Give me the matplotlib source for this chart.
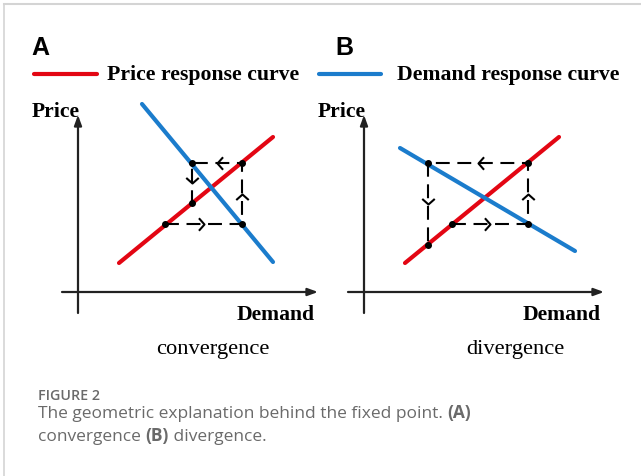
import matplotlib
matplotlib.use("Agg")
import matplotlib.pyplot as plt
from matplotlib.path import Path
import numpy as np

W, H = 641, 476

# curve end points (x = demand, y = price)
red_a_x = [4.1, 19.5]
red_a_y = [2.9, 15.5]
blue_a_x = [6.4, 19.5]
blue_a_y = [18.8, 3.0]
red_b_x = [4.1, 19.5]
red_b_y = [2.9, 15.5]
blue_b_x = [3.6, 21.1]
blue_b_y = [14.4, 4.1]

# cobweb paths
web_a_x = [8.7, 16.4, 16.4, 11.4, 11.4]
web_a_y = [6.8, 6.8, 12.9, 12.9, 8.9]
web_b_x = [8.8, 16.4, 16.4, 6.4, 6.4]
web_b_y = [6.8, 6.8, 12.9, 12.9, 4.7]

panel_tags = ["A", "B"]
panel_names = ["convergence", "divergence"]
legend_labels = ["Price response curve", "Demand response curve"]

RED = "#e30613"
BLUE = "#1b7ccc"
AX_COL = "#222222"
CAP_COL = "#6a6a6a"

plt.rcParams["lines.scale_dashes"] = False
SERIF = "Liberation Serif"


def px(x, y):
    return x / W, 1 - y / H


def chevron(angle):
    v = np.array([[-4.0, 4.5], [0.0, 0.0], [-4.0, -4.5]])
    a = np.deg2rad(angle)
    rot = np.array([[np.cos(a), -np.sin(a)], [np.sin(a), np.cos(a)]])
    return Path(v @ rot.T, [Path.MOVETO, Path.LINETO, Path.LINETO])


def draw_panel(ax, rx, ry, bx, by, wx, wy):
    ax.set_xlim(-1.6, 24.0)
    ax.set_ylim(-2.1, 19.2)
    ax.axis("off")
    arr = dict(arrowstyle="-|>,head_length=0.6,head_width=0.22", mutation_scale=10,
               lw=1.6, color=AX_COL, shrinkA=0, shrinkB=0)
    ax.annotate("", xy=(24.0, 0), xytext=(-1.6, 0), arrowprops=arr, annotation_clip=False)
    ax.annotate("", xy=(0, 17.7), xytext=(0, -2.1), arrowprops=arr, annotation_clip=False)
    ax.plot(rx, ry, color=RED, lw=3.0, solid_capstyle="round", clip_on=False)
    ax.plot(bx, by, color=BLUE, lw=3.0, solid_capstyle="round", clip_on=False)
    ax.plot(wx, wy, color="black", lw=1.5, dashes=(10, 5.5), clip_on=False)
    ax.plot(wx, wy, "o", color="black", ms=4, clip_on=False)
    for i in range(len(wx) - 1):
        mx = (wx[i] + wx[i + 1]) / 2
        my = (wy[i] + wy[i + 1]) / 2
        ang = np.degrees(np.arctan2(wy[i + 1] - wy[i], wx[i + 1] - wx[i]))
        ax.plot(mx, my, marker=chevron(ang), ms=9, mfc="none", mec="black",
                mew=1.5, clip_on=False)
    ax.text(-4.6, 17.5, "Price", family=SERIF, weight="bold", fontsize=15.6,
            ha="left", va="baseline")
    ax.text(23.7, -2.8, "Demand", family=SERIF, weight="bold", fontsize=15.6,
            ha="right", va="baseline")


fig = plt.figure(figsize=(W / 100, H / 100), dpi=100)

# frame lines of the figure page
fig.add_artist(plt.Line2D([4 / W, 1], [1 - 4 / H, 1 - 4 / H], color="#d4d4d4", lw=1.5))
fig.add_artist(plt.Line2D([4 / W, 4 / W], [0, 1 - 4 / H], color="#d4d4d4", lw=1.2))

ax_a = fig.add_axes([62 / W, (H - 313) / H, 256 / W, 213 / H])
ax_b = fig.add_axes([348 / W, (H - 313) / H, 256 / W, 213 / H])
draw_panel(ax_a, red_a_x, red_a_y, blue_a_x, blue_a_y, web_a_x, web_a_y)
draw_panel(ax_b, red_b_x, red_b_y, blue_b_x, blue_b_y, web_b_x, web_b_y)

# panel tags
fig.text(*px(31, 55), panel_tags[0], family="Liberation Sans", weight="bold", fontsize=18)
fig.text(*px(335, 55), panel_tags[1], family="Liberation Sans", weight="bold", fontsize=18)

# legend
fig.add_artist(plt.Line2D([34 / W, 97 / W], [1 - 74 / H] * 2, color=RED, lw=3.0,
                          solid_capstyle="round"))
fig.add_artist(plt.Line2D([319 / W, 381 / W], [1 - 74 / H] * 2, color=BLUE, lw=3.0,
                          solid_capstyle="round"))
fig.text(*px(107, 80), legend_labels[0], family=SERIF, weight="bold", fontsize=15.7)
fig.text(*px(397, 80), legend_labels[1], family=SERIF, weight="bold", fontsize=15.7)

# panel names
fig.text(*px(156, 354), panel_names[0], family=SERIF, fontsize=16.2)
fig.text(*px(466, 354), panel_names[1], family=SERIF, fontsize=16.2)

# caption
fig.text(*px(38, 400), "FIGURE 2", family="Open Sans", weight="semibold",
         fontsize=10.3, color=CAP_COL)


def runs(x, y, parts):
    r = fig.canvas.get_renderer()
    for s, bold in parts:
        t = fig.text(*px(x, y), s, family="Open Sans", fontsize=12.5, color=CAP_COL,
                     weight="bold" if bold else "normal")
        x += t.get_window_extent(r).width


runs(38, 418, [("The geometric explanation behind the fixed point. ", False), ("(A)", True)])
runs(38, 441, [("convergence ", False), ("(B)", True), (" divergence.", False)])

fig.savefig("out.png", dpi=100)
